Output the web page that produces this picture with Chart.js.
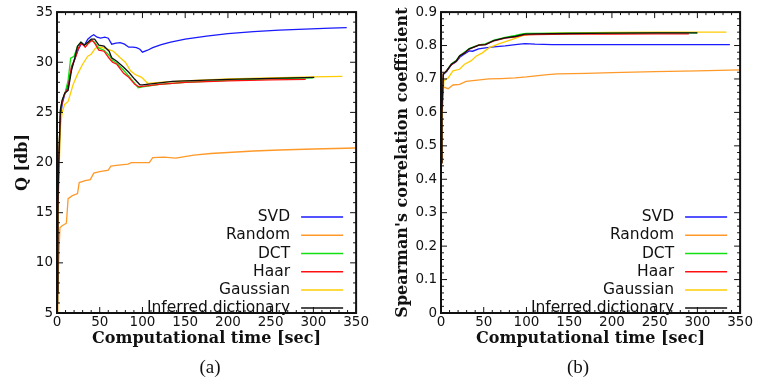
<!DOCTYPE html>
<html>
<head>
<meta charset="utf-8">
<script src="https://cdn.jsdelivr.net/npm/chart.js@4"></script>
<style>
  body { margin: 0; background: #fff; width: 784px; height: 386px; position: relative; overflow: hidden; }
  .box { position: absolute; top: 0; width: 370px; height: 360px; }
  .cap { position: absolute; top: 356px; font: 19px "Liberation Serif", serif; color: #111; transform: translateX(-50%); }
</style>
</head>
<body>
<div class="box" style="left:0"><canvas id="chartA" width="370" height="360"></canvas></div>
<div class="box" style="left:384px"><canvas id="chartB" width="370" height="360"></canvas></div>
<div class="cap" style="left:210px">(a)</div>
<div class="cap" style="left:578px">(b)</div>
<script>
const seriesNames = ['SVD', 'Random', 'DCT', 'Haar', 'Gaussian', 'Inferred dictionary'];
const seriesColors = ['#1a1aff', '#ff9a2a', '#11e011', '#ff1010', '#ffcc00', '#111111'];
const drawOrder = [4, 5, 2, 1, 3, 0];

const xTicks = [0, 50, 100, 150, 200, 250, 300, 350];
const yTicksA = [5, 10, 15, 20, 25, 30, 35];
const yTicksB = [0, 0.1, 0.2, 0.3, 0.4, 0.5, 0.6, 0.7, 0.8, 0.9];
const yLabelsB = ['0', '0.1', '0.2', '0.3', '0.4', '0.5', '0.6', '0.7', '0.8', '0.9'];

// (a) Q [db] vs computational time
const svdTimeA = [0, 1, 2, 4, 6, 9, 13, 17, 21, 25, 29, 32, 36, 40, 43, 47, 51, 56, 60, 64, 69, 74, 79, 84, 89, 93, 97, 100, 106, 112, 122, 133, 150, 175, 200, 230, 260, 290, 320, 339];
const svdQA = [6, 14, 19, 24.5, 25.8, 26.8, 27.8, 29.4, 30.4, 31.3, 31.9, 31.7, 32.3, 32.6, 32.75, 32.5, 32.4, 32.5, 32.4, 31.8, 31.9, 31.95, 31.8, 31.5, 31.5, 31.45, 31.3, 31.0, 31.2, 31.45, 31.75, 32.0, 32.3, 32.6, 32.85, 33.05, 33.2, 33.3, 33.4, 33.45];
const randTimeA = [0, 1, 3.4, 6, 11, 12, 13, 18, 24, 26, 33, 39, 43, 50, 60, 63, 72, 83, 87, 95, 108, 112, 125, 139, 160, 180, 200, 230, 260, 300, 350];
const randQA = [5, 8, 13.5, 13.7, 13.95, 15.2, 16.4, 16.7, 16.9, 18.0, 18.2, 18.3, 18.95, 19.1, 19.25, 19.65, 19.75, 19.85, 20.0, 20.0, 20.0, 20.5, 20.55, 20.45, 20.75, 20.9, 21.0, 21.15, 21.25, 21.35, 21.45];
const dctTimeA = [0, 1, 2, 4, 6, 9, 13, 16, 20, 24, 28, 32, 36, 40, 44, 49, 55, 61, 65, 70, 78, 84, 91, 95, 100, 120, 150, 200, 250, 300];
const dctQA = [7, 15, 20, 25.2, 26.2, 26.8, 28.2, 30.4, 30.6, 31.6, 32.0, 31.7, 31.9, 32.2, 32.0, 31.4, 31.2, 30.7, 30.2, 29.9, 29.2, 28.6, 27.9, 27.45, 27.55, 27.8, 28.0, 28.2, 28.35, 28.45];
const haarTimeA = [0, 1, 2, 4, 6, 9, 13, 17, 21, 25, 28, 31, 33, 37, 41, 44, 49, 55, 61, 65, 70, 78, 84, 91, 96, 100, 120, 150, 200, 250, 291];
const haarQA = [7, 15, 20, 25, 26, 26.9, 27.4, 29.6, 30.3, 31.4, 31.9, 31.7, 31.5, 31.9, 32.2, 31.9, 31.2, 31.1, 30.4, 30.0, 29.8, 28.9, 28.5, 27.8, 27.55, 27.6, 27.8, 28.0, 28.15, 28.25, 28.3];
const gaussTimeA = [0, 1, 2, 4, 6, 9, 13, 19, 24, 30, 36, 40, 45, 51, 59, 66, 74, 80, 86, 91, 99, 106, 120, 150, 200, 250, 300, 334];
const gaussQA = [6, 13, 18, 23.5, 25, 25.8, 26.1, 27.8, 28.8, 29.8, 30.6, 30.8, 31.4, 31.5, 31.3, 31.1, 30.45, 30.0, 29.15, 28.8, 28.5, 27.9, 28.0, 28.15, 28.35, 28.45, 28.55, 28.6];
const inferTimeA = [0, 1, 2, 4, 6, 9, 13, 17, 21, 24, 28, 32, 36, 40, 44, 49, 55, 61, 64, 70, 78, 84, 91, 97, 100, 135, 150, 200, 250, 301];
const inferQA = [7, 15, 20, 25.3, 26.2, 26.9, 27.2, 29.2, 30.5, 31.6, 32.0, 31.7, 32.0, 32.3, 32.3, 31.7, 31.6, 31.1, 30.45, 30.1, 29.5, 29.0, 28.3, 27.75, 27.75, 28.1, 28.15, 28.3, 28.4, 28.5];

// (b) Spearman's correlation coefficient vs computational time
const svdTimeB = [0, 1, 2.7, 6.5, 12, 18, 22, 27, 33, 37, 44, 52, 62, 75, 87, 98, 110, 130, 170, 220, 280, 338];
const svdRhoB = [0.45, 0.6, 0.713, 0.722, 0.742, 0.752, 0.765, 0.774, 0.784, 0.783, 0.79, 0.793, 0.796, 0.799, 0.803, 0.806, 0.804, 0.803, 0.803, 0.803, 0.803, 0.803];
const randTimeB = [0, 1, 2.7, 5, 8.4, 14, 21.7, 29.4, 40, 56, 70, 86.6, 100, 124.7, 136, 170, 200, 250, 300, 350];
const randRhoB = [0.45, 0.58, 0.676, 0.674, 0.671, 0.682, 0.684, 0.693, 0.696, 0.70, 0.701, 0.703, 0.706, 0.713, 0.715, 0.717, 0.719, 0.722, 0.724, 0.727];
const dctTimeB = [0, 1, 2.7, 6.5, 12, 18, 22, 27, 33, 44, 52, 62, 75, 87, 95, 100, 150, 200, 250, 300];
const dctRhoB = [0.45, 0.6, 0.715, 0.725, 0.745, 0.756, 0.77, 0.779, 0.791, 0.802, 0.805, 0.816, 0.824, 0.83, 0.835, 0.836, 0.837, 0.837, 0.838, 0.838];
const haarTimeB = [0, 1, 2.7, 6.5, 12, 18, 22, 27, 33, 44, 52, 62, 75, 87, 98, 110, 150, 200, 250, 290];
const haarRhoB = [0.45, 0.6, 0.716, 0.724, 0.743, 0.753, 0.769, 0.777, 0.789, 0.801, 0.803, 0.814, 0.822, 0.826, 0.832, 0.833, 0.834, 0.834, 0.835, 0.835];
const gaussTimeB = [0, 1, 3.4, 8.4, 14, 21.7, 27.5, 35, 41, 48.4, 56, 67.5, 82.7, 96, 105.6, 130, 200, 260, 334];
const gaussRhoB = [0.45, 0.58, 0.695, 0.703, 0.724, 0.729, 0.744, 0.754, 0.768, 0.778, 0.793, 0.805, 0.818, 0.83, 0.834, 0.837, 0.839, 0.84, 0.84];
const inferTimeB = [0, 1, 2.7, 6.5, 12.2, 18, 21.7, 27.5, 33, 44.6, 52, 61.8, 75, 86.6, 98, 110, 150, 200, 250, 300];
const inferRhoB = [0.45, 0.6, 0.715, 0.724, 0.744, 0.754, 0.769, 0.778, 0.79, 0.801, 0.803, 0.815, 0.823, 0.827, 0.834, 0.835, 0.836, 0.837, 0.838, 0.838];

const seriesA = [[svdTimeA, svdQA], [randTimeA, randQA], [dctTimeA, dctQA], [haarTimeA, haarQA], [gaussTimeA, gaussQA], [inferTimeA, inferQA]];
const seriesB = [[svdTimeB, svdRhoB], [randTimeB, randRhoB], [dctTimeB, dctRhoB], [haarTimeB, haarRhoB], [gaussTimeB, gaussRhoB], [inferTimeB, inferRhoB]];

const tickFont = { family: 'DejaVu Sans', size: 13.5 };
const titleFont = { family: 'DejaVu Serif', size: 16, weight: 'bold' };

function makeDatasets(series) {
    return series.map(([xs, ys], i) => ({
        label: seriesNames[i],
        data: xs.map((x, k) => ({ x: x, y: ys[k] })),
        borderColor: seriesColors[i],
        borderWidth: 1.3,
        pointRadius: 0,
        tension: 0,
        order: drawOrder[i],
    }));
}

// frame, inward ticks and legend drawn over the plot
const framePlugin = {
    id: 'frame',
    afterDatasetsDraw(chart, args, opts) {
        const ctx = chart.ctx;
        const a = chart.chartArea;
        const xs = chart.scales.x, ys = chart.scales.y;
        ctx.save();
        ctx.strokeStyle = '#111';
        ctx.lineWidth = 1;
        const tick = (v, scale, len) => {
            const p = scale.getPixelForValue(v);
            ctx.beginPath();
            if (scale === xs) {
                ctx.moveTo(p, a.bottom); ctx.lineTo(p, a.bottom - len);
                ctx.moveTo(p, a.top); ctx.lineTo(p, a.top + len);
            } else {
                ctx.moveTo(a.left, p); ctx.lineTo(a.left + len, p);
                ctx.moveTo(a.right, p); ctx.lineTo(a.right - len, p);
            }
            ctx.stroke();
        };
        for (let i = 0; i <= Math.round((xs.max - xs.min) / opts.xMinor); i++) {
            const v = xs.min + i * opts.xMinor;
            tick(v, xs, i % 5 === 0 ? 6 : 3);
        }
        const ny = Math.round((ys.max - ys.min) / opts.yMinor);
        for (let i = 0; i <= ny; i++) {
            const v = ys.min + i * opts.yMinor;
            tick(v, ys, i % 5 === 0 ? 6 : 3);
        }
        ctx.lineWidth = 2;
        ctx.strokeRect(a.left, a.top, a.right - a.left, a.bottom - a.top);

        // legend
        ctx.font = '15.5px "DejaVu Sans"';
        ctx.textAlign = 'right';
        ctx.textBaseline = 'middle';
        chart.data.datasets.forEach((ds, i) => {
            const y = a.top + 205 + i * 18.2;
            ctx.fillStyle = '#111';
            ctx.fillText(ds.label, a.right - 66, y);
            ctx.strokeStyle = ds.borderColor;
            ctx.lineWidth = 1.5;
            ctx.beginPath();
            ctx.moveTo(a.right - 55, y);
            ctx.lineTo(a.right - 13, y);
            ctx.stroke();
        });
        ctx.restore();
    }
};

function makeChart(id, series, yTicks, yLabels, yMin, yMax, yTitle, yTitlePad, yMinor) {
    new Chart(document.getElementById(id).getContext('2d'), {
        type: 'line',
        data: { datasets: makeDatasets(series) },
        plugins: [framePlugin],
        options: {
            responsive: false,
            animation: false,
            layout: { padding: { top: 7, right: 7, left: 0, bottom: 0 } },
            plugins: {
                legend: { display: false },
                tooltip: { enabled: false },
                frame: { xMinor: 10, yMinor: yMinor },
            },
            scales: {
                x: {
                    type: 'linear',
                    min: 0,
                    max: 350,
                    afterBuildTicks: s => { s.ticks = xTicks.map(v => ({ value: v })); },
                    afterFit: s => { s.height = 47; },
                    grid: { display: false, drawTicks: false },
                    border: { display: false },
                    ticks: { font: tickFont, color: '#111', padding: 1, maxRotation: 0, autoSkip: false },
                    title: { display: true, text: 'Computational time [sec]', font: titleFont, color: '#111', padding: { top: 0, bottom: 12 } },
                },
                y: {
                    min: yMin,
                    max: yMax,
                    afterBuildTicks: s => { s.ticks = yTicks.map(v => ({ value: v })); },
                    afterFit: s => { s.width = 57; },
                    grid: { display: false, drawTicks: false },
                    border: { display: false },
                    ticks: {
                        font: tickFont, color: '#111', padding: 4, autoSkip: false,
                        callback: (v, i) => yLabels[i],
                    },
                    title: { display: true, text: yTitle, font: titleFont, color: '#111', padding: { top: yTitlePad, bottom: 0 } },
                },
            },
        },
    });
}

makeChart('chartA', seriesA, yTicksA, yTicksA.map(String), 5, 35, 'Q [db]', 13, 1);
makeChart('chartB', seriesB, yTicksB, yLabelsB, 0, 0.9, "Spearman's correlation coefficient", 9, 0.02);
</script>
</body>
</html>
